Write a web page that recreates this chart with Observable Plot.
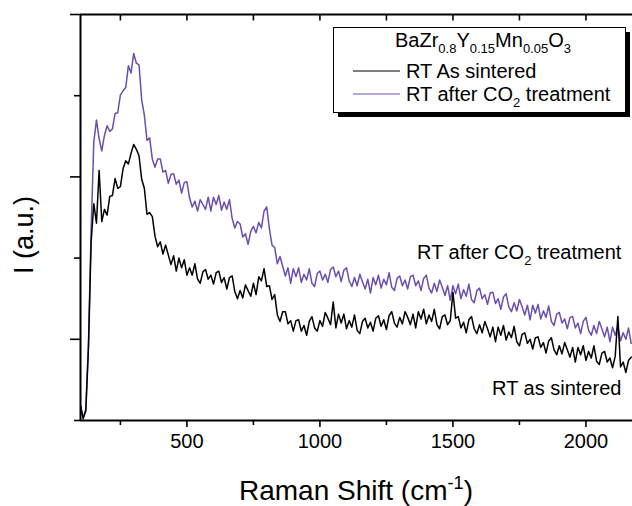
<!DOCTYPE html>
<html><head><meta charset="utf-8">
<script src="https://cdn.jsdelivr.net/npm/d3@7"></script>
<script src="https://cdn.jsdelivr.net/npm/@observablehq/plot@0.6"></script>
<style>html,body{margin:0;padding:0;background:#fff;}</style>
</head><body><div id="chart"></div>
<script>
// Raman shift grid (cm^-1), 10 cm^-1 spacing
const shift = d3.range(100, 2180, 10);

// RT after CO2 treatment (a.u.)
const afterCO2 = [
0.18,0.04,0.14,0.95,2.35,3.43,3.70,3.47,3.32,3.51,
3.63,3.56,3.59,3.78,3.79,4.01,4.06,4.10,4.37,4.28,
4.52,4.40,4.38,3.95,3.76,3.45,3.48,3.22,3.12,3.22,
3.22,3.06,3.08,2.92,3.03,3.04,2.91,2.96,2.80,2.93,
2.94,2.74,2.63,2.70,2.58,2.72,2.66,2.60,2.75,2.58,
2.75,2.66,2.77,2.59,2.69,2.60,2.72,2.49,2.37,2.45,
2.42,2.26,2.30,2.17,2.33,2.39,2.31,2.44,2.37,2.58,
2.63,2.36,2.16,2.13,1.93,2.02,1.90,1.78,1.88,1.69,
1.87,1.77,1.88,1.70,1.80,1.73,1.87,1.69,1.65,1.81,
1.84,1.73,1.80,1.70,1.86,1.89,1.77,1.84,1.71,1.85,
1.88,1.72,1.65,1.76,1.66,1.80,1.71,1.62,1.74,1.57,
1.76,1.67,1.79,1.63,1.74,1.67,1.82,1.64,1.60,1.75,
1.78,1.66,1.73,1.62,1.77,1.79,1.66,1.72,1.60,1.75,
1.79,1.63,1.57,1.69,1.59,1.73,1.64,1.54,1.66,1.48,
1.66,1.56,1.68,1.50,1.61,1.53,1.68,1.49,1.45,1.60,
1.63,1.50,1.55,1.43,1.57,1.58,1.44,1.50,1.37,1.52,
1.56,1.40,1.34,1.45,1.35,1.49,1.40,1.30,1.42,1.24,
1.42,1.32,1.43,1.25,1.35,1.27,1.41,1.22,1.17,1.31,
1.33,1.20,1.25,1.13,1.27,1.28,1.14,1.20,1.07,1.22,
1.27,1.11,1.05,1.17,1.07,1.22,1.13,1.03,1.15,0.97,
1.15,1.05,1.16,0.98,1.08,1.00,1.14,0.95
];

// RT as sintered (a.u.)
const asSintered = [
0.18,0.02,0.12,0.90,2.20,2.67,2.43,3.08,2.45,2.60,
2.53,2.76,2.77,2.98,2.86,2.88,3.10,3.20,3.16,3.29,
3.40,3.34,3.26,2.97,2.86,2.54,2.56,2.51,2.27,2.14,
2.20,2.05,2.16,2.04,1.92,2.03,1.84,2.00,1.88,1.98,
1.79,1.88,1.79,1.93,1.74,1.69,1.83,1.86,1.74,1.79,
1.68,1.82,1.84,1.70,1.76,1.62,1.76,1.78,1.59,1.50,
1.60,1.51,1.67,1.60,1.53,1.69,1.55,1.77,1.72,1.87,
1.65,1.66,1.49,1.55,1.30,1.22,1.34,1.34,1.19,1.23,
1.10,1.23,1.24,1.10,1.17,1.05,1.22,1.28,1.14,1.10,
1.23,1.16,1.33,1.26,1.18,1.46,1.14,1.31,1.20,1.31,
1.13,1.23,1.15,1.30,1.11,1.07,1.22,1.26,1.14,1.21,
1.10,1.26,1.29,1.16,1.24,1.12,1.29,1.34,1.20,1.15,
1.27,1.19,1.34,1.27,1.18,1.31,1.14,1.34,1.25,1.37,
1.19,1.30,1.22,1.37,1.18,1.13,1.28,1.30,1.18,1.23,
1.58,1.26,1.28,1.14,1.21,1.08,1.24,1.28,1.13,1.07,
1.18,1.08,1.22,1.13,1.03,1.15,0.97,1.15,1.05,1.17,
0.99,1.09,1.02,1.16,0.97,0.92,1.06,1.08,0.95,1.00,
0.88,1.02,1.03,0.90,0.96,0.83,0.98,1.02,0.87,0.81,
0.92,0.82,0.96,0.87,0.78,0.90,0.72,0.90,0.81,0.92,
0.74,0.85,0.77,0.92,0.73,0.69,0.83,0.85,0.72,0.77,
0.65,0.79,1.28,0.66,0.72,0.59,0.74,0.78
];

const xMajorTicks = [500, 1000, 1500, 2000];
const xMinorTicks = [250, 750, 1250, 1750];
const yMajorTicks = [1, 3, 5];
const yMinorTicks = [0, 2, 4];
const seriesLabels = ["RT As sintered", "RT after CO", "2", " treatment"];
const legendTitle = [["BaZr",0],["0.8",1],["Y",0],["0.15",1],["Mn",0],["0.05",1],["O",0],["3",1]];
const colors = {sintered: "#000000", co2: "#6a4fae"};

const dataCO2 = shift.map((s, i) => ({shift: s, I: afterCO2[i]}));
const dataSint = shift.map((s, i) => ({shift: s, I: asSintered[i]}));

const FONT = "'Liberation Sans', Arial, Helvetica, sans-serif";

const plot = Plot.plot({
  width: 632, height: 506,
  marginLeft: 80, marginRight: 0, marginTop: 14, marginBottom: 86,
  x: {domain: [100, 2175]},
  y: {domain: [0, 5]},
  style: {fontFamily: FONT, fontSize: "20px", background: "white", color: "black", overflow: "visible"},
  marks: [
    Plot.line(dataCO2, {x: "shift", y: "I", stroke: colors.co2, strokeWidth: 1.5, clip: true}),
    Plot.line(dataSint, {x: "shift", y: "I", stroke: colors.sintered, strokeWidth: 1.5, clip: true}),
    Plot.ruleX([100], {strokeWidth: 2}),
    Plot.ruleY([0], {strokeWidth: 2}),
    Plot.ruleY([5], {strokeWidth: 2}),
    Plot.axisY({ticks: yMajorTicks, tickSize: 10, tickFormat: () => "", label: null, strokeWidth: 1.6}),
    Plot.axisY({ticks: yMinorTicks, tickSize: 6, tickFormat: () => "", label: null, strokeWidth: 1.6}),
    Plot.axisX({ticks: xMajorTicks, tickSize: 7, tickPadding: 6, tickFormat: d3.format("d"), label: null, strokeWidth: 1.6, fontSize: 20}),
    Plot.axisX({ticks: xMinorTicks, tickSize: 5, tickFormat: () => "", label: null, strokeWidth: 1.6}),
    Plot.ruleX(xMajorTicks.concat(xMinorTicks), {y1: 5, y2: 4.92, strokeWidth: 1.6})
  ]
});
document.getElementById("chart").appendChild(plot);

const svg = d3.select(plot);
const xs = plot.scale("x"), ys = plot.scale("y");

function rich(g, x, y, parts, size, anchor) {
  const t = g.append("text").attr("x", x).attr("y", y)
    .attr("font-family", FONT).attr("font-size", size).attr("fill", "black")
    .attr("text-anchor", anchor || "start");
  let cur = 0;
  for (const [s, k] of parts) {
    const off = k === 1 ? size * 0.3 : k === -1 ? -size * 0.4 : 0;
    t.append("tspan").attr("dy", off - cur)
      .attr("font-size", k ? size * 0.65 : size).text(s);
    cur = off;
  }
  return t;
}

// axis titles
rich(svg, 356, 500, [["Raman Shift (cm",0],["-1",-1],[")",0]], 28, "middle");
svg.append("text").attr("transform", "translate(33,235) rotate(-90)")
  .attr("text-anchor", "middle").attr("font-family", FONT).attr("font-size", 27)
  .attr("fill", "black").text("I (a.u.)");

// legend
const lg = svg.append("g");
lg.append("rect").attr("x", 338).attr("y", 32).attr("width", 292).attr("height", 85).attr("fill", "black");
lg.append("rect").attr("x", 333.5).attr("y", 27.5).attr("width", 292).attr("height", 85)
  .attr("fill", "white").attr("stroke", "black").attr("stroke-width", 1);
rich(lg, 483, 47, legendTitle, 20, "middle");
lg.append("line").attr("x1", 353).attr("x2", 400).attr("y1", 71).attr("y2", 71)
  .attr("stroke", colors.sintered).attr("stroke-width", 1.2);
rich(lg, 406, 78, [[seriesLabels[0],0]], 20);
lg.append("line").attr("x1", 353).attr("x2", 400).attr("y1", 94).attr("y2", 94)
  .attr("stroke", colors.co2).attr("stroke-width", 1.2);
rich(lg, 406, 101, [[seriesLabels[1],0],[seriesLabels[2],1],[seriesLabels[3],0]], 20);

// in-plot annotations
const notes = [
  {shift: 1367, I: 1.98, parts: [["RT after CO",0],["2",1],[" treatment",0]]},
  {shift: 1649, I: 0.31, parts: [["RT as sintered",0]]}
];
for (const n of notes) rich(svg, xs.apply(n.shift), ys.apply(n.I), n.parts, 20);
</script>
</body></html>
